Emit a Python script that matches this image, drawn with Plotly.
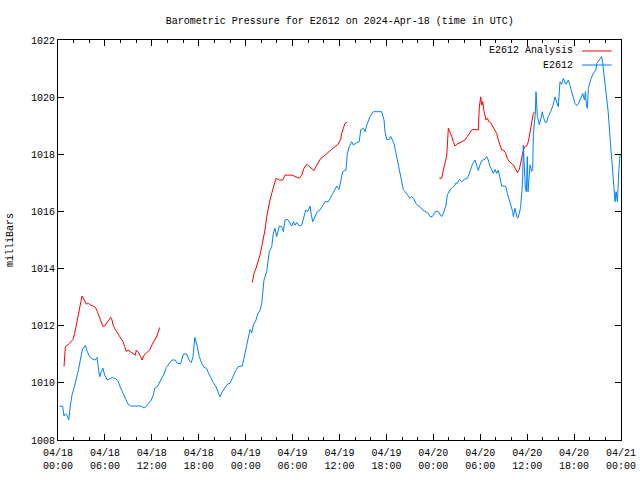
import plotly.graph_objects as go

# hours since 2024-04-18 00:00 UTC
obs_hours = [0.2, 0.6, 0.77, 0.94, 1.15, 1.37, 1.62, 1.79, 2.05, 2.34, 2.64, 2.9, 3.11, 3.5, 3.75, 4.05, 4.48, 4.78,
             4.99, 5.2, 5.33, 5.54, 5.75, 5.97, 6.31, 6.74, 6.95, 7.33, 7.67, 7.93, 8.31, 8.66, 8.95, 9.3, 9.8, 10.57,
             11.0, 11.29, 11.6, 11.93, 12.19, 12.37, 12.7, 12.92, 13.21, 13.56, 13.85, 14.2, 14.58, 15.0, 15.26, 15.7,
             16.03, 16.46, 16.75, 17.05, 17.27, 17.5, 17.73, 17.82, 18.07, 18.38, 18.67, 19.0, 19.22, 19.53, 19.86,
             20.2, 20.5, 20.72, 21.01, 21.36, 21.7, 22.0, 22.34, 22.72, 23.06, 23.57, 23.83, 24.13, 24.39, 24.56,
             24.77, 24.98, 25.32, 25.54, 25.83, 26.05, 26.2, 26.34, 26.69, 27.02, 27.33, 27.54, 27.75, 27.97, 28.3,
             28.61, 28.82, 29.03, 29.38, 29.67, 29.89, 30.1, 30.31, 30.53, 30.87, 31.17, 31.37, 31.68, 31.94, 32.23,
             32.4, 32.58, 32.87, 33.16, 33.5, 33.85, 34.15, 34.57, 34.88, 35.21, 35.64, 35.94, 36.15, 36.41, 36.83,
             37.0, 37.25, 37.56, 37.77, 38.2, 38.53, 38.71, 39.05, 39.26, 39.56, 39.9, 40.32, 40.96, 41.4, 41.69,
             41.82, 42.04, 42.37, 42.55, 42.8, 42.97, 43.23, 43.39, 43.65, 43.96, 44.16, 44.38, 44.59, 44.8, 45.02,
             45.23, 45.44, 45.79, 46.08, 46.3, 46.64, 46.94, 47.36, 47.58, 47.87, 48.13, 48.34, 48.64, 48.86, 49.07,
             49.28, 49.62, 49.79, 50.13, 50.48, 50.77, 50.9, 51.07, 51.33, 51.63, 51.96, 52.35, 52.6, 52.78, 53.04,
             53.33, 53.55, 53.75, 53.97, 54.19, 54.61, 54.83, 55.03, 55.25, 55.47, 55.67, 55.89, 56.1, 56.31, 56.53,
             56.74, 57.03, 57.29, 57.46, 57.72, 57.9, 58.15, 58.23, 58.45, 58.66, 58.79, 59.0, 59.17, 59.34, 59.43,
             59.51, 59.64, 59.77, 59.9, 60.02, 60.11, 60.28, 60.37, 60.58, 60.71, 60.79, 60.96, 61.05, 61.13, 61.22,
             61.3, 61.43, 61.55, 61.72, 61.94, 62.07, 62.32, 62.49, 62.7, 63.0, 63.35, 63.56, 63.78, 63.98, 64.2,
             64.41, 64.62, 64.96, 65.27, 65.49, 65.7, 65.83, 66.12, 66.34, 66.55, 66.86, 67.11, 67.32, 67.45, 67.58,
             67.7, 67.83, 68.17, 68.46, 68.78, 68.91, 69.3, 69.51, 69.64, 69.85, 70.15, 70.36, 70.57, 70.79, 71.0,
             71.24, 71.37, 71.54, 71.72, 71.87]
obs_mb = [1009.19, 1009.17, 1008.84, 1008.91, 1008.87, 1008.70, 1009.28, 1009.57, 1009.82, 1010.10, 1010.48, 1010.87,
          1011.15, 1011.31, 1011.09, 1010.92, 1010.82, 1010.80, 1010.89, 1010.45, 1010.21, 1010.39, 1010.51, 1010.27,
          1010.10, 1010.16, 1010.19, 1010.15, 1010.08, 1009.87, 1009.63, 1009.46, 1009.26, 1009.19, 1009.19, 1009.19,
          1009.12, 1009.17, 1009.28, 1009.40, 1009.57, 1009.81, 1009.87, 1009.98, 1010.16, 1010.31, 1010.54, 1010.68,
          1010.80, 1010.80, 1010.68, 1010.68, 1011.01, 1011.01, 1010.80, 1010.71, 1010.92, 1011.59, 1011.38, 1011.27,
          1010.92, 1010.68, 1010.54, 1010.51, 1010.36, 1010.16, 1010.01, 1009.87, 1009.69, 1009.51, 1009.69, 1009.81,
          1009.96, 1009.98, 1010.19, 1010.43, 1010.57, 1010.59, 1010.92, 1011.27, 1011.62, 1011.87, 1011.75, 1012.02,
          1012.20, 1012.41, 1012.53, 1012.78, 1013.19, 1013.60, 1013.89, 1014.59, 1014.77, 1015.23, 1015.41, 1015.12,
          1015.49, 1015.47, 1015.29, 1015.70, 1015.72, 1015.58, 1015.49, 1015.64, 1015.52, 1015.61, 1015.49, 1015.52,
          1015.76, 1016.05, 1015.99, 1016.19, 1015.87, 1015.64, 1015.82, 1015.99, 1016.05, 1016.22, 1016.34, 1016.34,
          1016.52, 1016.66, 1016.89, 1016.77, 1017.04, 1017.39, 1017.45, 1018.03, 1018.27, 1018.44, 1018.32, 1018.41,
          1018.44, 1018.85, 1018.91, 1018.79, 1019.08, 1019.32, 1019.49, 1019.49, 1019.49, 1019.20, 1018.79, 1018.52,
          1018.52, 1018.62, 1018.50, 1018.38, 1018.03, 1017.80, 1017.51, 1017.10, 1016.77, 1016.69, 1016.63, 1016.54,
          1016.46, 1016.52, 1016.46, 1016.28, 1016.19, 1016.17, 1016.05, 1015.99, 1015.93, 1015.82, 1015.82, 1015.93,
          1016.01, 1015.99, 1015.88, 1015.82, 1015.93, 1016.22, 1016.58, 1016.75, 1016.84, 1016.92, 1017.00, 1016.98,
          1017.12, 1017.04, 1017.12, 1017.16, 1017.33, 1017.51, 1017.68, 1017.80, 1017.63, 1017.43, 1017.63, 1017.78,
          1017.83, 1017.92, 1017.80, 1017.57, 1017.45, 1017.33, 1017.47, 1017.33, 1017.45, 1017.12, 1016.89, 1016.89,
          1016.87, 1016.63, 1016.40, 1016.17, 1015.99, 1015.82, 1016.11, 1015.82, 1015.76, 1015.93, 1016.17, 1016.75,
          1017.22, 1018.32, 1017.70, 1016.81, 1016.69, 1017.92, 1016.69, 1017.22, 1017.63, 1017.40, 1017.51, 1018.67,
          1019.20, 1019.49, 1020.19, 1019.84, 1019.32, 1019.20, 1019.03, 1019.20, 1019.49, 1019.30, 1019.12, 1019.12,
          1019.32, 1019.49, 1019.75, 1020.01, 1019.78, 1019.66, 1020.54, 1020.45, 1020.66, 1020.45, 1020.60, 1020.40,
          1020.19, 1020.01, 1019.78, 1019.70, 1019.78, 1019.96, 1020.13, 1019.90, 1020.19, 1019.72, 1019.61, 1020.31,
          1020.66, 1020.83, 1020.95, 1021.18, 1021.36, 1021.42, 1021.24, 1020.72, 1019.96, 1019.49, 1018.67, 1017.86,
          1017.04, 1016.34, 1016.69, 1016.34, 1017.39, 1017.97]

ana_hours = [0.77, 0.94, 1.28, 1.62, 1.92, 2.13, 2.34, 2.64, 2.9, 3.07, 3.33, 3.62, 3.92, 4.18, 4.48, 4.78, 5.03, 5.33,
             5.54, 5.75, 5.97, 6.31, 6.74, 6.91, 7.03, 7.33, 7.67, 8.02, 8.31, 8.53, 8.74, 8.95, 9.3, 9.59, 9.89,
             10.01, 10.32, 10.57, 10.74, 11.0, 11.29, 11.72, 12.02, 12.37, 12.7, 13.0,
             None,
             24.85, 25.07, 25.32, 25.62, 25.83, 26.05, 26.26, 26.47, 26.69, 26.9, 27.11, 27.33, 27.54, 27.88, 28.3,
             28.74, 29.03, 29.45, 29.89, 30.18, 30.53, 30.87, 31.17, 31.46, 31.81, 32.14, 32.45, 32.74, 33.0, 33.29,
             33.6, 33.93, 34.27, 34.57, 35.0, 35.42, 35.85, 36.15, 36.28, 36.49, 36.7, 37.0,
             None,
             48.76, 49.07, 49.28, 49.49, 49.71, 49.92, 50.13, 50.35, 50.56, 50.77, 51.07, 51.41, 51.76, 52.05, 52.35,
             52.6, 52.91, 53.2, 53.55, 53.75, 53.88, 54.06, 54.19, 54.32, 54.49, 54.74, 54.92, 55.09, 55.35, 55.6,
             55.89, 56.1, 56.31, 56.53, 56.74, 56.95, 57.21, 57.46, 57.72, 58.02, 58.32, 58.58, 58.75, 59.0, 59.17,
             59.3, 59.51, 59.73, 59.94, 60.15, 60.37, 60.58, 60.79, 60.96]
ana_mb = [1010.57, 1011.27, 1011.33, 1011.44, 1011.52, 1011.73, 1012.03, 1012.32, 1012.72, 1013.04, 1012.92, 1012.76,
          1012.78, 1012.72, 1012.69, 1012.64, 1012.49, 1012.26, 1012.08, 1011.97, 1011.99, 1012.14, 1012.29, 1012.20,
          1012.03, 1011.87, 1011.73, 1011.59, 1011.44, 1011.27, 1011.09, 1011.15, 1011.09, 1011.01, 1010.97, 1011.15,
          1011.05, 1010.92, 1010.80, 1010.97, 1011.03, 1011.15, 1011.33, 1011.52, 1011.67, 1011.94,
          None,
          1013.51, 1013.83, 1014.01, 1014.24, 1014.47, 1014.77, 1015.06, 1015.35, 1015.82, 1016.17, 1016.40, 1016.63,
          1016.87, 1017.16, 1017.10, 1017.10, 1017.27, 1017.27, 1017.27, 1017.24, 1017.19, 1017.16, 1017.27, 1017.51,
          1017.65, 1017.57, 1017.48, 1017.43, 1017.57, 1017.74, 1017.86, 1017.92, 1018.01, 1018.09, 1018.17, 1018.27,
          1018.36, 1018.52, 1018.73, 1018.91, 1019.08, 1019.13,
          None,
          1017.16, 1017.16, 1017.45, 1017.74, 1017.94, 1018.91, 1018.79, 1018.62, 1018.44, 1018.29, 1018.36, 1018.41,
          1018.44, 1018.50, 1018.62, 1018.73, 1018.85, 1018.87, 1018.85, 1018.85, 1019.66, 1020.01, 1019.72, 1019.84,
          1019.49, 1019.20, 1019.26, 1019.14, 1019.10, 1018.97, 1018.85, 1018.73, 1018.50, 1018.32, 1018.15, 1018.15,
          1018.06, 1017.86, 1017.74, 1017.68, 1017.59, 1017.45, 1017.36, 1017.47, 1017.74, 1017.89, 1018.15, 1018.27,
          1018.29, 1018.44, 1018.79, 1019.14, 1019.43, 1019.49]

x_tick_hours = [0, 6, 12, 18, 24, 30, 36, 42, 48, 54, 60, 66, 72]
x_tick_labels = ["04/18<br>00:00", "04/18<br>06:00", "04/18<br>12:00", "04/18<br>18:00",
                 "04/19<br>00:00", "04/19<br>06:00", "04/19<br>12:00", "04/19<br>18:00",
                 "04/20<br>00:00", "04/20<br>06:00", "04/20<br>12:00", "04/20<br>18:00",
                 "04/21<br>00:00"]
y_ticks = [1008, 1010, 1012, 1014, 1016, 1018, 1020, 1022]

FONT = "Liberation Mono, DejaVu Sans Mono, monospace"
RED = "#ff0000"
BLUE = "#0080ff"

fig = go.Figure()
fig.add_trace(go.Scatter(x=ana_hours, y=ana_mb, mode="lines", name="E2612 Analysis",
                         line=dict(color=RED, width=1), connectgaps=False, showlegend=False))
fig.add_trace(go.Scatter(x=obs_hours, y=obs_mb, mode="lines", name="E2612",
                         line=dict(color=BLUE, width=1), showlegend=False))

# legend drawn in gnuplot style (text right-aligned, sample line to the right)
legend_items = [("E2612 Analysis", RED), ("E2612", BLUE)]
for i, (label, col) in enumerate(legend_items):
    yy = 0.9725 - i * 0.035
    fig.add_annotation(xref="paper", yref="paper", x=0.918, y=yy, text=label, showarrow=False,
                       xanchor="right", yanchor="middle", font=dict(family=FONT, size=10, color="black"))
    fig.add_shape(type="line", xref="paper", yref="paper", x0=0.9305, x1=0.9835, y0=yy, y1=yy,
                  line=dict(color=col, width=1))

# y-axis title as rotated text (gnuplot style, far left)
fig.add_annotation(xref="paper", yref="paper", x=-0.0853, y=0.5, text="milliBars", showarrow=False,
                   textangle=-90, xanchor="center", yanchor="middle",
                   font=dict(family=FONT, size=10, color="black"))

fig.update_layout(
    width=640, height=480,
    margin=dict(l=58, r=19, t=40, b=40, autoexpand=False),
    paper_bgcolor="white", plot_bgcolor="white",
    font=dict(family=FONT, size=10, color="black"),
    hovermode=False,
    title=dict(text="Barometric Pressure for E2612 on 2024-Apr-18 (time in UTC)",
               x=0.531, xanchor="center", y=0.9583, yanchor="middle",
               font=dict(family=FONT, size=10, color="black")),
)
fig.update_xaxes(range=[0, 72], tickmode="array", tickvals=x_tick_hours, ticktext=x_tick_labels,
                 automargin=False, ticklabelstandoff=3,
                 showgrid=False, zeroline=False, showline=True, linecolor="black", linewidth=1,
                 mirror="ticks", ticks="inside", ticklen=6, tickcolor="black",
                 minor=dict(tickmode="linear", tick0=0, dtick=2, ticks="inside", ticklen=3,
                            tickcolor="black", showgrid=False),
                 tickfont=dict(family=FONT, size=10))
fig.update_yaxes(range=[1008, 1022], tickmode="array", tickvals=y_ticks,
                 ticktext=[str(v) for v in y_ticks], automargin=False,
                 showgrid=False, zeroline=False, showline=True, linecolor="black", linewidth=1,
                 mirror="ticks", ticks="inside", ticklen=6, tickcolor="black",
                 tickfont=dict(family=FONT, size=10))

fig.write_html("out.html", config={"displayModeBar": False, "staticPlot": True},
               post_script="document.body.style.margin='0';document.body.style.overflow='hidden';")
